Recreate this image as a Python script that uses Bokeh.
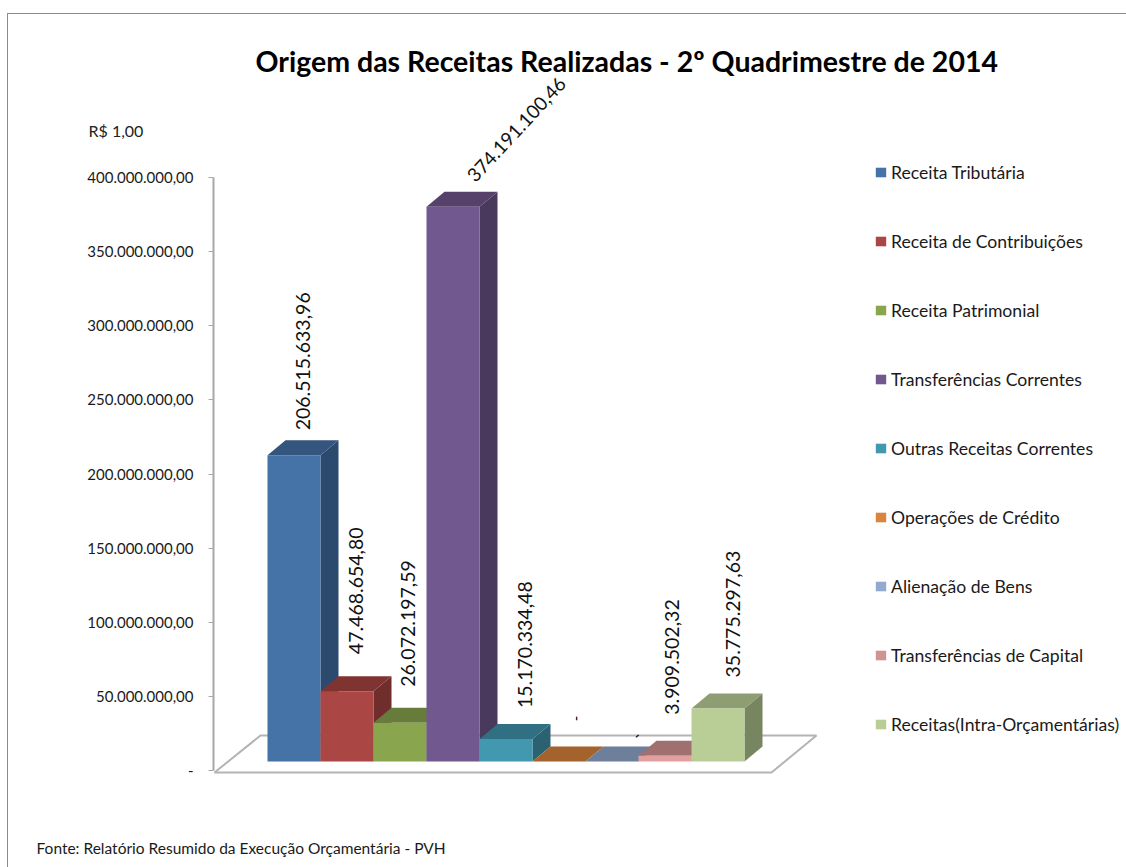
from bokeh.plotting import figure
from bokeh.models import Range1d, FixedTicker, Label, Legend, LegendItem
from bokeh.embed import file_html
from bokeh.resources import INLINE

categories = ["Receita Tributária", "Receita de Contribuições", "Receita Patrimonial",
              "Transferências Correntes", "Outras Receitas Correntes", "Operações de Crédito",
              "Alienação de Bens", "Transferências de Capital", "Receitas(Intra-Orçamentárias)"]
values = [206515633.96, 47468654.80, 26072197.59, 374191100.46, 15170334.48, 0, 0, 3909502.32, 35775297.63]
value_labels = ["206.515.633,96", "47.468.654,80", "26.072.197,59", "374.191.100,46", "15.170.334,48",
                "-", "-", "3.909.502,32", "35.775.297,63"]
tick_values = [0, 50e6, 100e6, 150e6, 200e6, 250e6, 300e6, 350e6, 400e6]
tick_labels = ["-", "50.000.000,00", "100.000.000,00", "150.000.000,00", "200.000.000,00",
               "250.000.000,00", "300.000.000,00", "350.000.000,00", "400.000.000,00"]
front = ["#4572a7", "#aa4643", "#89a54e", "#71588f", "#4198af", "#db843d", "#93a9cf", "#e0a0a0", "#b9cd96"]
side = ["#2b4a6e", "#6f2d2b", "#596b33", "#49395d", "#2a6272", "#8e5628", "#606e87", "#a07070", "#788561"]
top = ["#34557d", "#803432", "#677c3a", "#554169", "#307082", "#a4622c", "#6e7f9b", "#a07070", "#8e9e72"]
legend_colors = ["#4572a7", "#aa4643", "#89a54e", "#71588f", "#4198af", "#db843d", "#93a9cf", "#d19392", "#b9cd96"]

FONT = "Lato"
W, H = 1126, 867
FRAME_BOTTOM = 790
AX_X, AX_BOTTOM, AX_TOP = 213, 770, 177
PX_PER_V = (AX_BOTTOM - AX_TOP) / 400e6
BAR_X0, BAR_W = 267, 53
DX, DY = 18, 15
BASE = 9      # front of the bars sits 9px above the axis zero


def X(px):
    return (px - BAR_X0) / BAR_W


def Y(py):
    return (AX_BOTTOM - py) / PX_PER_V


p = figure(width=W, height=H, output_backend="svg", toolbar_location=None,
           x_range=Range1d(X(AX_X), X(W)), y_range=Range1d(Y(FRAME_BOTTOM), Y(0)),
           min_border_left=AX_X, min_border_right=0, min_border_top=0, min_border_bottom=H - FRAME_BOTTOM,
           x_axis_location=None, outline_line_color=None,
           background_fill_alpha=0, border_fill_alpha=0,
           styles={"background-image": "linear-gradient(#8c8c8c,#8c8c8c),linear-gradient(#8c8c8c,#8c8c8c)",
                   "background-size": "1px 854px,1119px 1px",
                   "background-position": "7px 13px,7px 13px",
                   "background-repeat": "no-repeat"})
p.grid.visible = False

ax = p.yaxis[0]
ax.ticker = FixedTicker(ticks=tick_values)
ax.major_label_overrides = {v: l for v, l in zip(tick_values, tick_labels)}
ax.bounds = (0, 400e6)
ax.axis_line_color = "#a8a8a8"
ax.axis_line_width = 2
ax.major_tick_line_color = "#a8a8a8"
ax.major_tick_in = 0
ax.major_tick_out = 5
ax.minor_tick_line_color = None
ax.major_label_standoff = 15
ax.major_label_text_font = FONT
ax.major_label_text_font_size = "15px"
ax.major_label_text_color = "#1a1a1a"

# floor
b0 = BASE / PX_PER_V
dyv = DY / PX_PER_V
dxu = DX / BAR_W
p.patch([X(214), X(771), X(816), X(260)], [Y(772), Y(772), Y(735), Y(735)],
        fill_color="white", line_color="#b4b4b4", line_width=2)

# bars
for i, v in enumerate(values):
    l, r = i, i + 1
    t = b0 + v
    p.patch([r, r + dxu, r + dxu, r], [b0, b0 + dyv, t + dyv, t], fill_color=side[i], line_color=None)
    p.patch([l, r, r + dxu, l + dxu], [t, t, t + dyv, t + dyv], fill_color=top[i], line_color=None)
    if v > 0:
        p.quad(left=l, right=r, bottom=b0, top=t, fill_color=front[i], line_color=None)

# legend
items = []
for i, c in enumerate(categories):
    r = p.quad(left=[-100], right=[-99], bottom=[0], top=[1], color=legend_colors[i], line_color=None)
    items.append(LegendItem(label=c, renderers=[r]))
leg = Legend(items=items, orientation="vertical", spacing=47, padding=0, margin=0,
             glyph_width=13, glyph_height=12, label_height=22, label_standoff=4,
             border_line_color=None, background_fill_alpha=0,
             label_text_font=FONT, label_text_font_size="17.6px", label_text_color="#1a1a1a",
             location=(874 - AX_X, FRAME_BOTTOM - (172 - 11) - (9 * 22 + 8 * 47)))
p.add_layout(leg, "center")

# data labels
label_px = [(302, 10), (355, 22), (407, 21), None, (524, 16), None, None, (671, 26), (732, 16)]
for i, spec in enumerate(label_px):
    if spec is None:
        continue
    p.add_layout(Label(x=X(spec[0]), y=b0 + values[i] + dyv + spec[1] / PX_PER_V, text=value_labels[i],
                       angle=90, angle_units="deg", text_font=FONT, text_font_size="19.5px",
                       text_align="left", text_baseline="middle", text_color="#111111"))
p.add_layout(Label(x=X(470), y=Y(178), text=value_labels[3], angle=47, angle_units="deg",
                   text_font=FONT, text_font_size="19px", text_align="left", text_baseline="middle",
                   text_color="#111111"))
p.add_layout(Label(x=X(575), y=Y(718), text=value_labels[5], angle=90, angle_units="deg", text_font=FONT,
                   text_font_size="15px", text_align="center", text_baseline="middle", text_color="#000000"))
p.add_layout(Label(x=X(636), y=Y(735), text=value_labels[6], angle=45, angle_units="deg", text_font=FONT,
                   text_font_size="15px", text_align="center", text_baseline="middle", text_color="#000000"))

# texts
p.add_layout(Label(x=X(255), y=Y(60), text="Origem das Receitas Realizadas - 2º Quadrimestre de  2014",
                   text_font=FONT, text_font_size="28.5px", text_font_style="bold",
                   text_baseline="middle", text_color="#000000"))
p.add_layout(Label(x=88 - AX_X, y=679, x_units="screen", y_units="screen", text="R$ 1,00", text_font=FONT,
                   text_font_size="16px", text_baseline="middle", text_color="#222222"), "below")
p.add_layout(Label(x=36 - AX_X, y=-20, x_units="screen", y_units="screen",
                   text="Fonte: Relatório Resumido da Execução Orçamentária - PVH",
                   text_font=FONT, text_font_size="15.5px", text_baseline="middle", text_color="#1a1a1a"), "below")

open("out.html", "w").write(file_html(p, INLINE))
